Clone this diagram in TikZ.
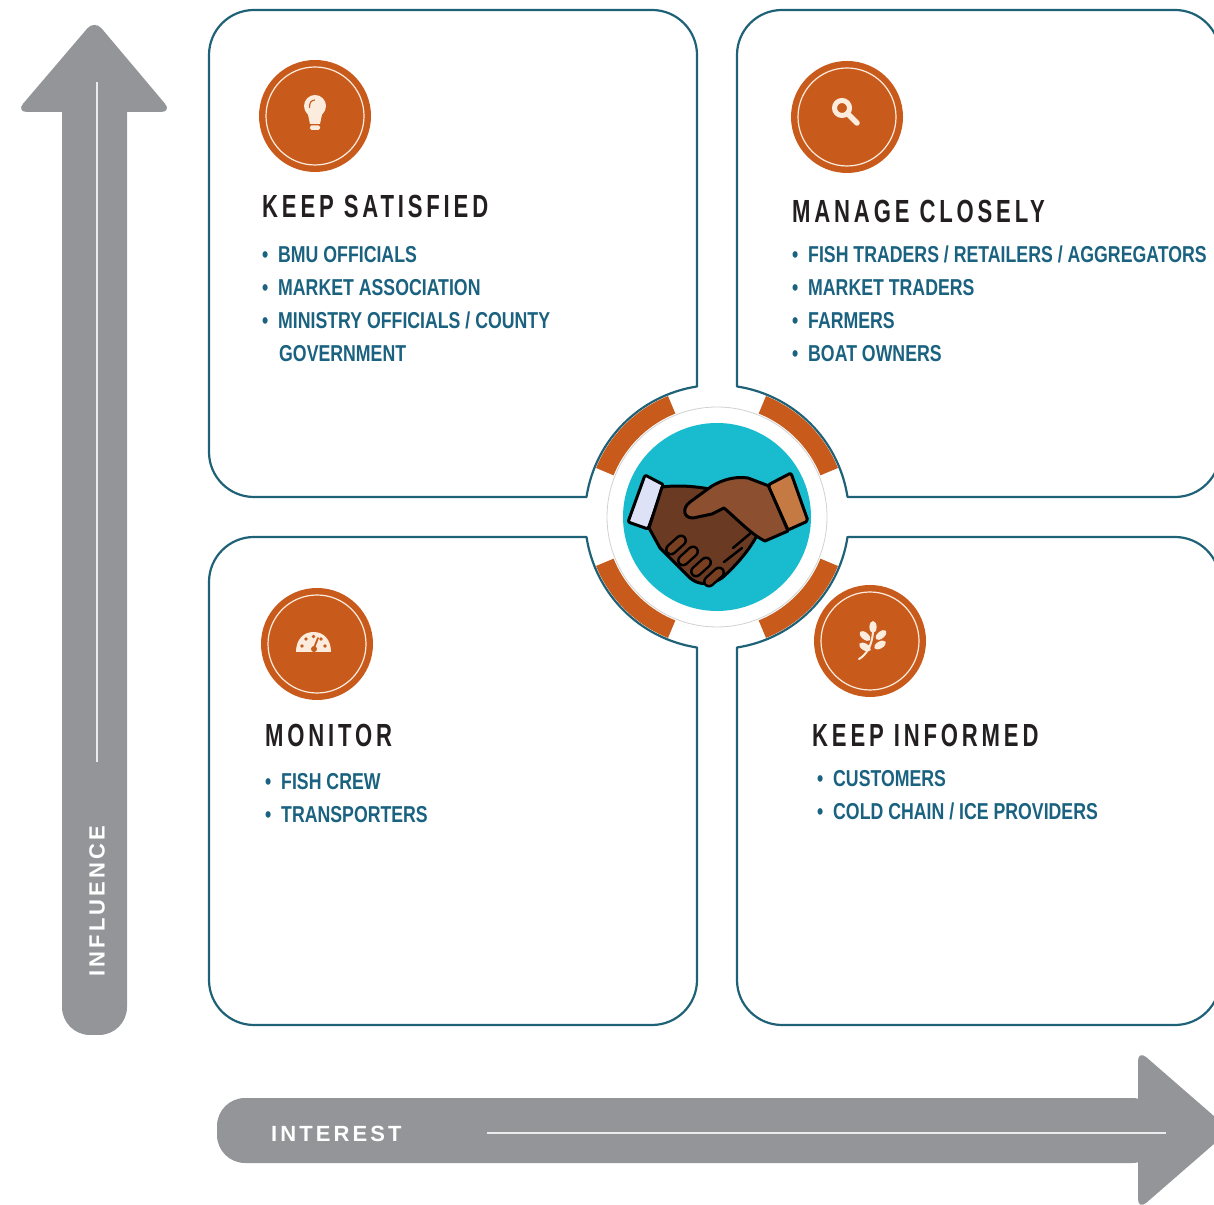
\documentclass[tikz,border=0pt]{standalone}
\usepackage{fontspec}
\setmainfont{Liberation Sans}
\newfontfamily\headfont[FakeStretch=0.69,LetterSpace=12]{Liberation Sans}
\newfontfamily\itemfont[FakeStretch=0.77]{Liberation Sans}
\newfontfamily\axisfont[LetterSpace=14]{Liberation Sans}

\definecolor{boxteal}{RGB}{31,98,120}
\definecolor{entryink}{RGB}{26,98,128}
\definecolor{titleink}{RGB}{35,31,32}
\definecolor{ember}{RGB}{200,90,28}
\definecolor{cream}{RGB}{252,236,222}
\definecolor{axisgray}{RGB}{147,149,152}
\definecolor{hubcyan}{RGB}{25,188,206}
\definecolor{cuffpale}{RGB}{221,226,246}
\definecolor{cufftan}{RGB}{196,122,66}
\definecolor{handdark}{RGB}{107,58,34}
\definecolor{handmid}{RGB}{140,80,48}

\newcommand\itembullet{\makebox[16pt][l]{•}}

\tikzset{
  quad/.style={draw=boxteal, line width=2.2pt, fill=white, line join=round},
  badge/.style={circle, fill=ember, minimum size=112pt, inner sep=0pt},
  badgering/.style={draw=cream, line width=1.2pt},
  hubarc/.style={draw=ember, line width=19pt},
  glyph/.style={fill=cream, draw=none},
  title/.style={anchor=base west, inner sep=0pt, text=titleink,
    font=\headfont\bfseries\fontsize{32}{32}\selectfont},
  entry/.style={anchor=base west, inner sep=0pt, text=entryink,
    font=\itemfont\bfseries\fontsize{23}{23}\selectfont},
  axislabel/.style={inner sep=0pt, text=white,
    font=\axisfont\bfseries\fontsize{22}{22}\selectfont},
  outline/.style={draw=black, line width=3pt, line join=round},
}

\begin{document}
\begin{tikzpicture}[x=1pt,y=1pt]
\useasboundingbox (0,0) rectangle (1214,1204);
\clip (0,0) rectangle (1214,1204);

% ---- the four quadrants, each cut round the central hub ----
\draw[quad] (209,752) -- (209,1149) arc[start angle=180,end angle=90,radius=45]
  -- (652,1194) arc[start angle=90,end angle=0,radius=45]
  -- (697,817.5) arc[start angle=98.7,end angle=171.3,radius=132]
  -- (254,707) arc[start angle=270,end angle=180,radius=45] -- cycle;
\draw[quad] (847.5,707) arc[start angle=8.7,end angle=81.3,radius=132]
  -- (737,1149) arc[start angle=180,end angle=90,radius=45]
  -- (1175,1194) arc[start angle=90,end angle=0,radius=45]
  -- (1220,752) arc[start angle=0,end angle=-90,radius=45] -- cycle;
\draw[quad] (209,224) -- (209,622) arc[start angle=180,end angle=90,radius=45]
  -- (586.5,667) arc[start angle=188.7,end angle=261.3,radius=132]
  -- (697,224) arc[start angle=0,end angle=-90,radius=45]
  -- (254,179) arc[start angle=270,end angle=180,radius=45] -- cycle;
\draw[quad] (847.5,667) -- (1175,667) arc[start angle=90,end angle=0,radius=45]
  -- (1220,224) arc[start angle=0,end angle=-90,radius=45]
  -- (782,179) arc[start angle=270,end angle=180,radius=45]
  -- (737,556.5) arc[start angle=278.7,end angle=351.3,radius=132] -- cycle;

% ---- central hub ----
\coordinate (hub) at (717,687);
\foreach \a in {22,112,202,292}
  \draw[hubarc] (hub) ++(\a:121) arc[start angle=\a, end angle=\a+46, radius=121];
\draw[fill=white, draw=black!18, line width=0.8pt] (hub) circle[radius=110];
\fill[hubcyan] (hub) circle[radius=94];

% ---- handshake (drawn in screen coordinates, y downwards) ----
\begin{scope}[shift={(0,1204)}, y=-1pt]
  \draw[outline, fill=cuffpale, rounded corners=2pt]
    (645,475) -- (664,485) -- (648,529) -- (628,522) -- cycle;
  \draw[outline, fill=handdark]
    (662,487) .. controls (685,484) and (715,488) .. (738,497) -- (762,522)
    .. controls (758,540) and (740,562) .. (722,578)
    .. controls (710,586) and (698,585) .. (690,578) -- (660,548) -- (649,528) -- cycle;
  \foreach \cx/\cy in {676/545, 688/556, 701/567, 714/577} {
    \draw[line width=12pt, line cap=round, black] (\cx-5,\cy+4.5) -- (\cx+5,\cy-4.5);
    \draw[line width=7pt, line cap=round, handdark!85!ember] (\cx-5,\cy+4.5) -- (\cx+5,\cy-4.5);
  }
  \draw[black, line width=2.5pt, line cap=round] (733,548) -- (752,532);
  \draw[black, line width=2.5pt, line cap=round] (724,562) -- (742,548);
  \draw[outline, fill=handmid]
    (769,486) -- (748,478) .. controls (735,476) and (722,480) .. (712,486) -- (690,502)
    .. controls (682,508) and (683,518) .. (693,518) -- (712,514) -- (724,508)
    .. controls (738,520) and (752,535) .. (765,541) -- (788,531) -- cycle;
  \draw[outline, fill=cufftan, rounded corners=2pt]
    (768,485) -- (791,473) -- (808,521) -- (788,530) -- cycle;

  % ---- badges with their glyphs ----
  \node[badge] (bulb) at (315,116) {};
  \draw[badgering] (bulb.center) circle[radius=49];
  \fill[glyph] (315,106) circle[radius=11];
  \fill[glyph] (307,110) -- (323,110) -- (320,124) -- (310,124) -- cycle;
  \fill[glyph, rounded corners=1.5pt] (310,125.5) rectangle (320,130);
  \draw[draw=ember, line width=1.1pt] (309.5,108) .. controls (309.5,102) and (311,100.5) .. (315,100);

  \node[badge] (lens) at (847,117) {};
  \draw[badgering] (lens.center) circle[radius=49];
  \draw[cream, line width=5pt] (842,108) circle[radius=7.5];
  \draw[cream, line width=5.5pt, line cap=round] (848.5,114.5) -- (857,123);

  \node[badge] (gauge) at (317,644) {};
  \draw[badgering] (gauge.center) circle[radius=49];
  \fill[glyph] (296,652) -- (331,652) .. controls (331,640) and (324,632) .. (313.5,632)
    .. controls (303,632) and (296,640) .. (296,652) -- cycle;
  \foreach \dx/\dy in {302/646, 306/639, 313.5/636.5, 321/639, 325/646}
    \fill[ember] (\dx,\dy) circle[radius=1.8];
  \draw[draw=ember, line width=1.8pt, line cap=round] (314,648) -- (318,638);
  \fill[ember] (314,649) circle[radius=3];

  \node[badge] (sprig) at (870,641) {};
  \draw[badgering] (sprig.center) circle[radius=49];
  \draw[cream, line width=2pt, line cap=round] (859,659) .. controls (866,655) and (872,646) .. (873,632);
  \fill[glyph] (873,627) ellipse[x radius=3.6, y radius=6];
  \fill[glyph, rotate around={50:(865,636)}] (865,636) ellipse[x radius=3.5, y radius=6.5];
  \fill[glyph, rotate around={-50:(881,635)}] (881,635) ellipse[x radius=3.5, y radius=6.5];
  \fill[glyph, rotate around={60:(865,647)}] (865,647) ellipse[x radius=3.5, y radius=6.5];
  \fill[glyph, rotate around={-60:(880,645)}] (880,645) ellipse[x radius=3.5, y radius=6.5];
\end{scope}

% ---- quadrant titles and lists ----
\node[title] (tSat) at (262,986) {KEEP SATISFIED};
\node[entry] (s1) at (262,941) {\itembullet BMU OFFICIALS};
\node[entry] (s2) at (262,908) {\itembullet MARKET ASSOCIATION};
\node[entry] (s3) at (262,875) {\itembullet MINISTRY OFFICIALS / COUNTY};
\node[entry] (s4) at (262,842) {\hspace*{17pt}GOVERNMENT};

\node[title] (tMan) at (792,981) {MANAGE CLOSELY};
\node[entry] (m1) at (792,941) {\itembullet FISH TRADERS / RETAILERS / AGGREGATORS};
\node[entry] (m2) at (792,908) {\itembullet MARKET TRADERS};
\node[entry] (m3) at (792,875) {\itembullet FARMERS};
\node[entry] (m4) at (792,842) {\itembullet BOAT OWNERS};

\node[title] (tMon) at (265,457) {MONITOR};
\node[entry] (n1) at (265,414) {\itembullet FISH CREW};
\node[entry] (n2) at (265,381) {\itembullet TRANSPORTERS};

\node[title] (tInf) at (812,457) {KEEP INFORMED};
\node[entry] (i1) at (817,417) {\itembullet CUSTOMERS};
\node[entry] (i2) at (817,384) {\itembullet COLD CHAIN / ICE PROVIDERS};

% ---- axes ----
\fill[axisgray, rounded corners=28pt] (62,169) rectangle (127,1125);
\fill[axisgray, rounded corners=11pt] (16,1092) -- (94.5,1184) -- (172,1092) -- cycle;
\fill[axisgray, rounded corners=28pt] (217,41) rectangle (1160,106);
\fill[axisgray, rounded corners=11pt] (1138,-6) -- (1230,74) -- (1138,154) -- cycle;

\coordinate (vTop) at (97,1122);
\coordinate (vEnd) at (97,442);
\draw[white!92!black, line width=1.4pt] (vTop) -- (vEnd);
\coordinate (hStart) at (487,71);
\coordinate (hEnd) at (1166,71);
\draw[white!92!black, line width=1.4pt] (hStart) -- (hEnd);

\node[axislabel, rotate=90] (influence) at (97,303) {INFLUENCE};
\node[axislabel, anchor=base west] (interest) at (271,63) {INTEREST};
\end{tikzpicture}
\end{document}
